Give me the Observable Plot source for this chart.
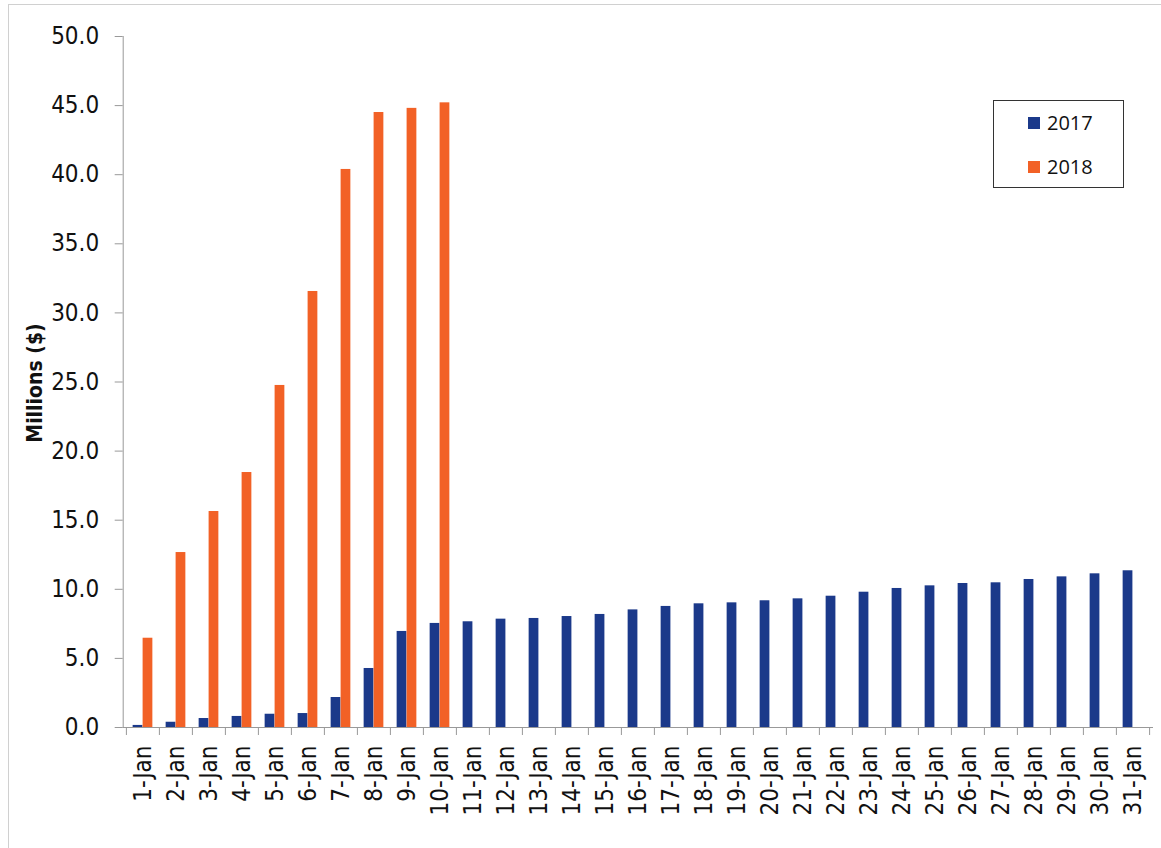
<!DOCTYPE html>
<html>
<head>
<meta charset="utf-8">
<script src="https://cdn.jsdelivr.net/npm/d3@7"></script>
<script src="https://cdn.jsdelivr.net/npm/@observablehq/plot@0.6"></script>
<style>
  html, body { margin: 0; padding: 0; background: #fff; }
  #wrap { position: relative; width: 1161px; height: 848px; overflow: hidden; }
  #border { position: absolute; left: 8px; top: 4px; width: 1200px; height: 900px; border: 1px solid #d0d0d0; box-sizing: border-box; }
  #chart { position: absolute; left: 0; top: 0; }
  #ylabel { position: absolute; left: 35px; top: 383px; transform: translate(-50%, -50%) rotate(-90deg); white-space: nowrap;
            font-family: "Liberation Sans Narrow", "Arial Narrow", "DejaVu Sans Condensed", sans-serif; font-weight: bold; font-size: 21px; color: #111; }
  #legend { position: absolute; left: 993px; top: 100px; width: 131px; height: 88px; border: 1px solid #333; box-sizing: border-box; background: #fff;
            font-family: "Open Sans", "Liberation Sans", sans-serif; font-size: 20px; color: #111; }
  .item { position: absolute; left: 34px; display: flex; align-items: center; }
  .sw { width: 12px; height: 12px; margin-right: 7px; }
</style>
</head>
<body>
<div id="wrap">
  <div id="border"></div>
  <div id="chart"></div>
  <div id="ylabel">Millions ($)</div>
  <div id="legend"></div>
</div>
<script>
const days = Array.from({length: 31}, (_, i) => `${i + 1}-Jan`);
const values2017 = [0.15, 0.38, 0.65, 0.8, 0.96, 1.01, 2.17, 4.27, 6.95, 7.53,
  7.65, 7.84, 7.89, 8.03, 8.18, 8.51, 8.76, 8.95, 9.02, 9.17,
  9.31, 9.5, 9.79, 10.06, 10.25, 10.42, 10.47, 10.71, 10.9, 11.12, 11.34];
const values2018 = [6.46, 12.66, 15.63, 18.45, 24.75, 31.55, 40.38, 44.5, 44.8, 45.2];
const series = ["2017", "2018"];
const colors = ["#1b398a", "#f26126"];
const yTicks = [0, 5, 10, 15, 20, 25, 30, 35, 40, 45, 50];

const data2017 = days.map((d, i) => ({day: d, value: values2017[i]}));
const data2018 = values2018.map((v, i) => ({day: days[i], value: v}));

const W = 1161, H = 848, mL = 122.7, mR = 9, mT = 36, mB = 121;
const bw = (W - mL - mR) / days.length;
const font = `"Liberation Sans Narrow", "Arial Narrow", "DejaVu Sans Condensed", sans-serif`;

const chart = Plot.plot({
  width: W, height: H,
  marginLeft: mL, marginRight: mR, marginTop: mT, marginBottom: mB,
  style: {fontFamily: font, background: "transparent", color: "#111", overflow: "visible"},
  x: {type: "band", domain: days, padding: 0},
  y: {domain: [0, 50]},
  marks: [
    Plot.barY(data2017, {x: "day", y: "value", fill: colors[0], insetLeft: bw * 0.2, insetRight: bw * 0.5}),
    Plot.barY(data2018, {x: "day", y: "value", fill: colors[1], insetLeft: bw * 0.5, insetRight: bw * 0.2}),
    Plot.frame({anchor: "left", stroke: "#999"}),
    Plot.frame({anchor: "bottom", stroke: "#999"}),
    Plot.axisY({ticks: yTicks, tickFormat: d3.format(".1f"), tickSize: 8, tickPadding: 16,
      fontSize: 24, stroke: "#999", fill: "#111", label: null}),
    Plot.axisX({ticks: days, text: null, tickSize: 8, dx: -bw / 2, stroke: "#999", label: null}),
    Plot.axisX({ticks: [days[days.length - 1]], text: null, tickSize: 8, dx: bw / 2, stroke: "#999", label: null}),
    Plot.axisX({ticks: days, tickSize: 0, tickPadding: 18, tickRotate: -90, fontSize: 24, fill: "#111", label: null})
  ]
});
document.getElementById("chart").appendChild(chart);

const legend = document.getElementById("legend");
series.forEach((s, i) => {
  const it = document.createElement("div");
  it.className = "item";
  it.style.top = (i === 0 ? 8 : 52) + "px";
  it.innerHTML = `<span class="sw" style="background:${colors[i]}"></span><span>${s}</span>`;
  legend.appendChild(it);
});
</script>
</body>
</html>
